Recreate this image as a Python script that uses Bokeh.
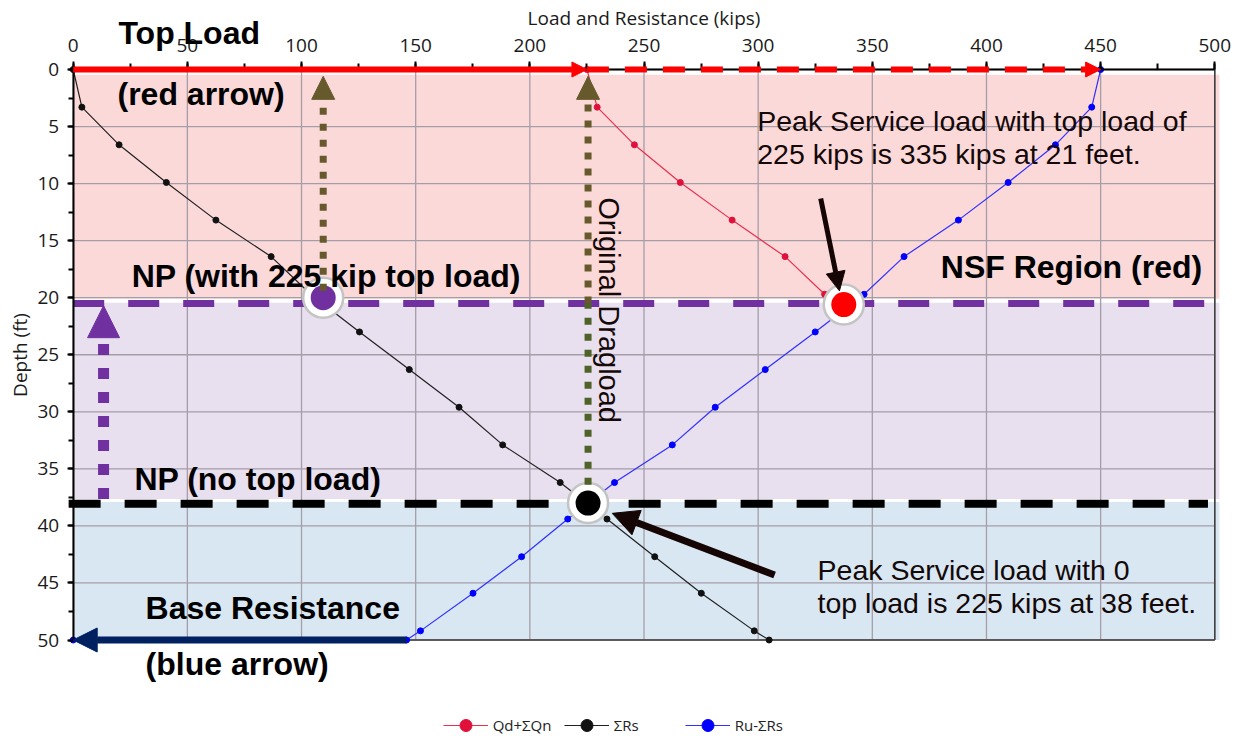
import math
from bokeh.plotting import figure
from bokeh.models import (Range1d, SingleIntervalTicker, Label, Arrow, NormalHead,
                          Legend, LegendItem, LinearAxis)
from bokeh.embed import file_html
from bokeh.resources import INLINE

# ---------------- data ----------------
depth_ft = [0, 3.3, 6.6, 9.9, 13.2, 16.4, 19.7, 23.0, 26.3, 29.6, 32.9, 36.2,
            39.4, 42.7, 45.9, 49.2, 50.0]
sum_rs = [0, 3.8, 20.1, 40.8, 62.5, 86.7, 104.0, 125.4, 147.2, 169.0, 188.1, 213.3,
          233.8, 254.7, 275.1, 298.3, 304.8]
ru_minus_rs = [450, 446.1, 430.2, 409.5, 387.7, 363.9, 346.4, 325.0, 303.1, 281.2,
               262.4, 237.1, 216.6, 196.4, 175.1, 152.1, 146.0, 0]
ru_depth = depth_ft + [50.0]
qd_depth = [0, 3.3, 6.6, 9.9, 13.2, 16.4, 19.7]
qd_sum_qn = [225, 229.5, 245.8, 265.9, 288.6, 311.8, 329.1]

top_load = 225
ultimate_resistance = 450
base_resistance = 146
np_with_load = 20.5     # neutral plane with top load (ft)
np_no_load = 38.05      # neutral plane without top load (ft)
peak_with_load = [337.5, 20.6]
peak_no_load = [225.5, 38.0]
np_rs_with_load = [109.5, 20.0]

band_top = [0.45, 20.45, 37.9]
band_bottom = [20.1, 37.65, 50.0]

x_ticks_interval = 50
y_ticks_interval = 5
x_lo, x_hi = 0, 500
y_lo, y_hi = 0, 50
x_grid_ticks = list(range(x_lo, x_hi + 1, x_ticks_interval))
y_grid_ticks = list(range(y_lo, y_hi + 1, y_ticks_interval))

# ---------------- layout: frame covers the whole canvas, axes are fixed ----------------
FIG_W, FIG_H = 1241, 736
AX_LEFT, AX_RIGHT, AX_TOP, AX_BOTTOM = 72.7, 1214.3, 69.0, 639.5   # pixel box of the axes
kpx = (AX_RIGHT - AX_LEFT) / (x_hi - x_lo)
fpx = (AX_BOTTOM - AX_TOP) / (y_hi - y_lo)
x_range = Range1d(x_lo - AX_LEFT / kpx, x_hi + (FIG_W - AX_RIGHT) / kpx)
y_range = Range1d(y_hi + (FIG_H - AX_BOTTOM) / fpx, y_lo - AX_TOP / fpx)

p = figure(width=FIG_W, height=FIG_H, x_range=x_range, y_range=y_range,
           x_axis_type=None, y_axis_type=None, title=None, min_border=0,
           output_backend="svg", toolbar_location=None,
           background_fill_color="white", border_fill_color="white")
p.outline_line_color = None

xaxis = LinearAxis(fixed_location=y_lo, bounds=(x_lo, x_hi),
                   ticker=SingleIntervalTicker(interval=x_ticks_interval, num_minor_ticks=2),
                   axis_label="Load and Resistance (kips)")
yaxis = LinearAxis(fixed_location=x_lo, bounds=(y_lo, y_hi),
                   ticker=SingleIntervalTicker(interval=y_ticks_interval, num_minor_ticks=2),
                   axis_label="Depth (ft)")
p.add_layout(xaxis, "above")
p.add_layout(yaxis, "left")
for ax, mt, mn, ls, ts in ((xaxis, 8, 6, 10, 5), (yaxis, 6, 5, 8, 2)):
    ax.axis_label_text_font = "Open Sans"
    ax.axis_label_text_font_size = "19px"
    ax.axis_label_text_font_style = "normal"
    ax.axis_label_text_color = "#1a1a1a"
    ax.axis_label_standoff = ts
    ax.major_label_text_font = "Open Sans"
    ax.major_label_text_font_size = "19px"
    ax.major_label_text_color = "#1a1a1a"
    ax.major_label_standoff = ls
    ax.axis_line_color = "black"
    ax.axis_line_width = 2
    ax.major_tick_line_color = "black"
    ax.major_tick_line_width = 2
    ax.major_tick_out = mt
    ax.major_tick_in = 0
    ax.minor_tick_line_color = "black"
    ax.minor_tick_line_width = 2
    ax.minor_tick_out = mn
    ax.minor_tick_in = 0

# region bands (lowest level)
p.quad(left=x_lo, right=x_hi + 2, top=band_top, bottom=band_bottom,
       fill_color=["#fcd9d9", "#e8dfef", "#d8e7f2"], line_color=None, level="image")

# grid lines at the tick positions
p.segment(x0=x_grid_ticks, y0=y_lo, x1=x_grid_ticks, y1=y_hi, line_color="#a59ea8",
          line_width=1.3, level="underlay")
p.segment(x0=x_lo, y0=y_grid_ticks, x1=x_hi, y1=y_grid_ticks, line_color="#a59ea8",
          line_width=1.3, level="underlay")
# frame border (right and bottom)
p.segment(x0=[x_hi, x_lo], y0=[y_lo, y_hi], x1=[x_hi, x_hi], y1=[y_hi, y_hi],
          line_color="#3c3c3c", line_width=1.5, level="underlay")

# series
r_red_l = p.line(qd_sum_qn, qd_depth, line_color="#e8304f", line_width=1.2)
r_red_m = p.scatter(qd_sum_qn, qd_depth, size=6, fill_color="#e0103a", line_color="#e0103a")
r_blk_l = p.line(sum_rs, depth_ft, line_color="#202020", line_width=1.2)
r_blk_m = p.scatter(sum_rs, depth_ft, size=6, fill_color="#111111", line_color="#111111")
r_blu_l = p.line(ru_minus_rs, ru_depth, line_color="#3030ff", line_width=1.2)
r_blu_m = p.scatter(ru_minus_rs, ru_depth, size=6, fill_color="#0000ff", line_color="#0000ff")

# neutral plane lines
p.segment(x0=x_lo, y0=np_with_load, x1=x_hi + 4, y1=np_with_load, line_color="#7030a0",
          line_width=7, line_dash="31 24")
p.segment(x0=x_lo - 2, y0=np_no_load, x1=x_hi - 3, y1=np_no_load, line_color="black",
          line_width=8, line_dash="32 24")

# highlighted points
hx = [np_rs_with_load[0], peak_with_load[0], peak_no_load[0]]
hy = [np_rs_with_load[1], peak_with_load[1], peak_no_load[1]]
p.scatter(hx, hy, size=40, fill_color="white", line_color="#c4c4c4", line_width=2.5)
p.scatter(hx, hy, size=25, fill_color=["#7030a0", "#ff0000", "#000000"], line_color=None)

# ---------------- arrows ----------------
def add_arrow(x0, y0, x1, y1, color, width, dash="solid", head=None):
    end = NormalHead(size=head, fill_color=color, line_color=color, line_width=1) if head else None
    p.add_layout(Arrow(end=end, x_start=x0, y_start=y0, x_end=x1, y_end=y1,
                       line_color=color, line_width=width, line_dash=dash, line_cap="butt"))

add_arrow(0, 0, top_load, 0, "#ff0000", 6, head=15)
add_arrow(top_load, 0, ultimate_resistance, 0, "#ff0000", 6, dash="22 16", head=15)
add_arrow(np_rs_with_load[0], np_rs_with_load[1] - 0.6, np_rs_with_load[0], 0.6,
          "#665a2c", 7, dash="7 9", head=23)
add_arrow(peak_no_load[0], peak_no_load[1] - 1.6, peak_no_load[0], np_with_load,
          "#4f6228", 7, dash="7 9")
add_arrow(peak_no_load[0], np_with_load, peak_no_load[0], 0.6,
          "#665a2c", 7, dash="7 9", head=23)
add_arrow(13.3, np_no_load - 0.4, 13.3, np_with_load + 0.2, "#7030a0", 11, dash="11 13", head=32)
add_arrow(base_resistance, y_hi, 0, y_hi, "#002060", 7, head=24)
add_arrow(327.4, 11.3, 335.6, 19.4, "#150505", 5, head=19)
add_arrow(307.2, 44.3, 236.1, 38.9, "#150505", 7, head=26)

# ---------------- labels ----------------
def add_label(x, y, text, size, bold=False, angle=0.0):
    p.add_layout(Label(x=x, y=y, text=text, text_font="Liberation Sans",
                       text_font_size=size, text_font_style="bold" if bold else "normal",
                       text_color="black" if bold else "#140808", text_align="left",
                       text_baseline="alphabetic", angle=angle))

add_label(19.8, -3.24, "Top Load", "32px", True)
add_label(19.4, 2.12, "(red arrow)", "32px", True)
add_label(25.6, 18.12, "NP (with 225 kip top load)", "32px", True)
add_label(26.8, 35.92, "NP (no top load)", "32px", True)
add_label(31.7, 47.17, "Base Resistance", "32px", True)
add_label(31.7, 52.12, "(blue arrow)", "32px", True)
add_label(380, 17.32, "NSF Region (red)", "32px", True)
add_label(299.6, 4.5, "Peak Service load with top load of", "28.5px")
add_label(299.6, 7.37, "225 kips is 335 kips at 21 feet.", "28.5px")
add_label(326, 43.9, "Peak Service load with 0", "28.5px")
add_label(326, 46.8, "top load is 225 kips at 38 feet.", "28.5px")
add_label(234.5, 11.2, "Original Dragload", "29px", angle=-math.pi / 2)

# ---------------- legend ----------------
legend = Legend(items=[LegendItem(label="Qd+ΣQn", renderers=[r_red_l, r_red_m]),
                       LegendItem(label="ΣRs", renderers=[r_blk_l, r_blk_m]),
                       LegendItem(label="Ru-ΣRs", renderers=[r_blu_l, r_blu_m])],
                orientation="horizontal", location=(442.7, -4),
                glyph_width=45, glyph_height=30, label_standoff=5, label_width=66,
                spacing=5, padding=0, margin=0, border_line_color=None,
                background_fill_alpha=0, label_text_font="Open Sans",
                label_text_font_size="15px", label_text_color="#222222")
p.add_layout(legend)

open("out.html", "w").write(file_html(p, INLINE))
